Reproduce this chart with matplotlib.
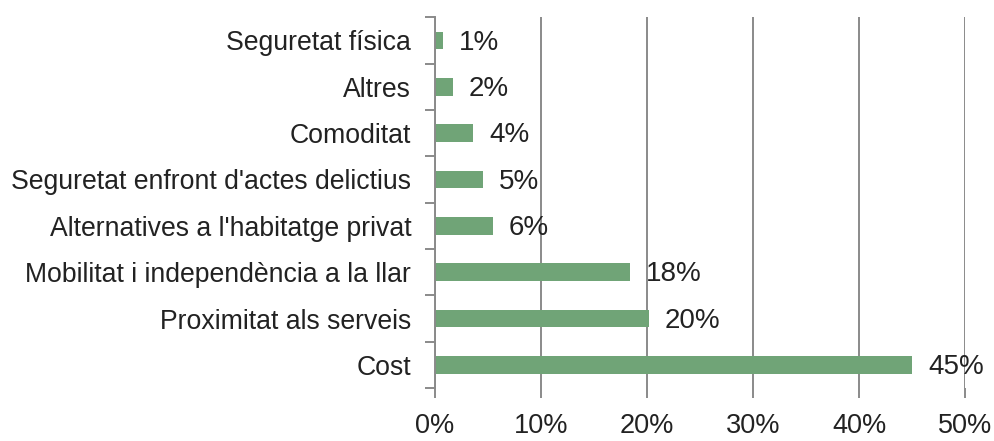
import numpy as np
import matplotlib.pyplot as plt

# categories from bottom to top
categories = ["Cost", "Proximitat als serveis", "Mobilitat i independència a la llar",
              "Alternatives a l'habitatge privat", "Seguretat enfront d'actes delictius",
              "Comoditat", "Altres", "Seguretat física"]
values = [45.0, 20.2, 18.4, 5.5, 4.5, 3.6, 1.7, 0.8]
labels = ["45%", "20%", "18%", "6%", "5%", "4%", "2%", "1%"]
xticks = [0, 10, 20, 30, 40, 50]

plt.rcParams['font.family'] = ['Liberation Sans', 'DejaVu Sans']

fig = plt.figure(figsize=(9.95, 4.41), dpi=100)
ax = fig.add_axes([0.437, 0.120, 0.533, 0.841])

y = np.arange(len(categories))
ax.barh(y, values, height=0.38, color='#70a477', zorder=3)
for yi, v, lab in zip(y, values, labels):
    ax.text(v + 1.5, yi - 0.05, lab, va='center', ha='left', fontsize=20, color='#222222', zorder=4)

ax.set_xlim(0, 50)
ax.set_ylim(-0.5, len(categories) - 0.5)
ax.set_xticks(xticks)
ax.set_xticklabels([f"{t}%" for t in xticks], fontsize=19.5, color='#222222')
ax.set_yticks(y)
ax.set_yticklabels(categories, fontsize=19.2, color='#222222')
ax.set_yticks(np.arange(len(categories) + 1) - 0.5, minor=True)

ax.grid(axis='x', color='#8a8a8a', lw=1.4, zorder=0)
for s in ['top', 'right', 'bottom']:
    ax.spines[s].set_visible(False)
ax.spines['left'].set_color('#8a8a8a')
ax.spines['left'].set_linewidth(1.4)
ax.spines['left'].set_zorder(5)

ax.tick_params(axis='y', which='major', length=0, pad=17)
ax.tick_params(axis='y', which='minor', length=7, width=1.4, color='#8a8a8a')
ax.tick_params(axis='x', length=7, width=1.4, color='#8a8a8a', pad=11)

fig.savefig('out.png', dpi=100)
